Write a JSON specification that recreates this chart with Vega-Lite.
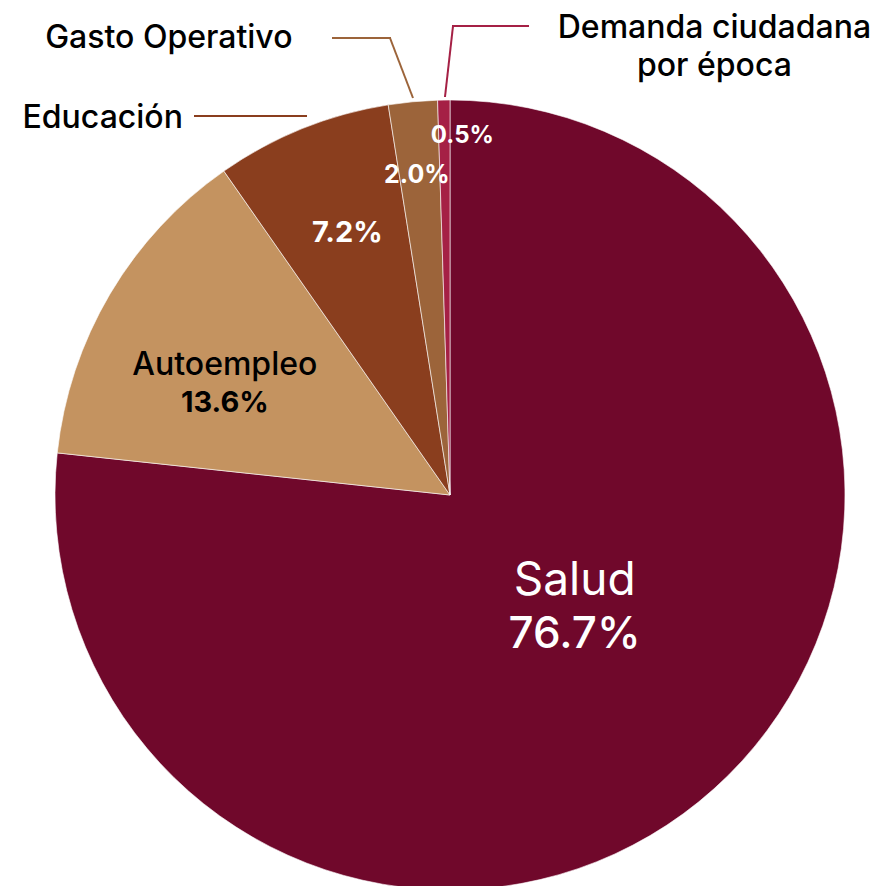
{
  "$schema": "https://vega.github.io/schema/vega-lite/v6.json",
  "width": 884,
  "height": 772,
  "autosize": "none",
  "padding": {"left": 8, "top": 109, "right": 0, "bottom": 5},
  "background": "#ffffff",
  "config": {"view": {"stroke": null}, "text": {"font": "Inter"}},
  "data": {"values": [
    {"cat": "Salud", "value": 0.767},
    {"cat": "Autoempleo", "value": 0.136},
    {"cat": "Educación", "value": 0.072},
    {"cat": "Gasto Operativo", "value": 0.020},
    {"cat": "Demanda ciudadana por época", "value": 0.005}
  ]},
  "layer": [
    {
      "mark": {"type": "arc", "outerRadius": 395, "stroke": "#ffffff", "strokeWidth": 0.6},
      "encoding": {
        "theta": {"field": "value", "type": "quantitative", "stack": true},
        "order": {"field": "value", "type": "quantitative", "sort": "descending"},
        "color": {"field": "cat", "type": "nominal", "legend": null,
          "scale": {"domain": ["Salud", "Autoempleo", "Educación", "Gasto Operativo", "Demanda ciudadana por época"],
                    "range": ["#70082B", "#C49360", "#8A3E1E", "#9C643A", "#A52045"]}}
      }
    },
    {
      "mark": {"type": "text", "radius": 170, "dx": 11, "dy": -26, "fontSize": 46, "fontWeight": 400, "fill": "#ffffff", "align": "center", "baseline": "alphabetic"},
      "encoding": {
        "theta": {"field": "value", "type": "quantitative", "stack": true},
        "order": {"field": "value", "type": "quantitative", "sort": "descending"},
        "text": {"condition": {"test": "datum.cat === 'Salud'", "field": "cat", "type": "nominal"}, "value": ""}
      }
    },
    {
      "mark": {"type": "text", "radius": 170, "dx": 11, "dy": 27, "fontSize": 44, "fontWeight": 500, "fill": "#ffffff", "align": "center", "baseline": "alphabetic"},
      "encoding": {
        "theta": {"field": "value", "type": "quantitative", "stack": true},
        "order": {"field": "value", "type": "quantitative", "sort": "descending"},
        "text": {"condition": {"test": "datum.cat === 'Salud'", "field": "value", "type": "quantitative", "format": ".1%"}, "value": ""}
      }
    },
    {
      "mark": {"type": "text", "radius": 250, "dx": -10, "dy": 7, "fontSize": 32, "fontWeight": 500, "fill": "#000000", "align": "center", "baseline": "alphabetic"},
      "encoding": {
        "theta": {"field": "value", "type": "quantitative", "stack": true},
        "order": {"field": "value", "type": "quantitative", "sort": "descending"},
        "text": {"condition": {"test": "datum.cat === 'Autoempleo'", "field": "cat", "type": "nominal"}, "value": ""}
      }
    },
    {
      "mark": {"type": "text", "radius": 250, "dx": -10, "dy": 44, "fontSize": 29, "fontWeight": 700, "fill": "#000000", "align": "center", "baseline": "alphabetic"},
      "encoding": {
        "theta": {"field": "value", "type": "quantitative", "stack": true},
        "order": {"field": "value", "type": "quantitative", "sort": "descending"},
        "text": {"condition": {"test": "datum.cat === 'Autoempleo'", "field": "value", "type": "quantitative", "format": ".1%"}, "value": ""}
      }
    },
    {
      "mark": {"type": "text", "radius": 280, "dx": 2, "dy": 7, "fontSize": 29, "fontWeight": 700, "fill": "#ffffff", "align": "center", "baseline": "alphabetic"},
      "encoding": {
        "theta": {"field": "value", "type": "quantitative", "stack": true},
        "order": {"field": "value", "type": "quantitative", "sort": "descending"},
        "text": {"condition": {"test": "datum.cat === 'Educación'", "field": "value", "type": "quantitative", "format": ".1%"}, "value": ""}
      }
    },
    {
      "mark": {"type": "text", "radius": 320, "dx": -3, "dy": 7, "fontSize": 25, "fontWeight": 700, "fill": "#ffffff", "align": "center", "baseline": "alphabetic"},
      "encoding": {
        "theta": {"field": "value", "type": "quantitative", "stack": true},
        "order": {"field": "value", "type": "quantitative", "sort": "descending"},
        "text": {"condition": {"test": "datum.cat === 'Gasto Operativo'", "field": "value", "type": "quantitative", "format": ".1%"}, "value": ""}
      }
    },
    {
      "mark": {"type": "text", "radius": 360, "dx": 18, "dy": 8, "fontSize": 24, "fontWeight": 700, "fill": "#ffffff", "align": "center", "baseline": "alphabetic"},
      "encoding": {
        "theta": {"field": "value", "type": "quantitative", "stack": true},
        "order": {"field": "value", "type": "quantitative", "sort": "descending"},
        "text": {"condition": {"test": "datum.cat === 'Demanda ciudadana por época'", "field": "value", "type": "quantitative", "format": ".1%"}, "value": ""}
      }
    },
    {
      "mark": {"type": "text", "radius": 420, "dx": -110, "dy": 23, "fontSize": 32, "fontWeight": 500, "fill": "#000000", "align": "right", "baseline": "alphabetic"},
      "encoding": {
        "theta": {"field": "value", "type": "quantitative", "stack": true},
        "order": {"field": "value", "type": "quantitative", "sort": "descending"},
        "text": {"condition": {"test": "datum.cat === 'Educación'", "field": "cat", "type": "nominal"}, "value": ""}
      }
    },
    {
      "mark": {"type": "text", "radius": 420, "dx": -118, "dy": -29, "fontSize": 32, "fontWeight": 500, "fill": "#000000", "align": "right", "baseline": "alphabetic"},
      "encoding": {
        "theta": {"field": "value", "type": "quantitative", "stack": true},
        "order": {"field": "value", "type": "quantitative", "sort": "descending"},
        "text": {"condition": {"test": "datum.cat === 'Gasto Operativo'", "field": "cat", "type": "nominal"}, "value": ""}
      }
    },
    {
      "mark": {"type": "text", "radius": 420, "dx": 271, "dy": -37, "fontSize": 32, "fontWeight": 500, "fill": "#000000", "align": "center", "baseline": "alphabetic", "lineHeight": 38},
      "encoding": {
        "theta": {"field": "value", "type": "quantitative", "stack": true},
        "order": {"field": "value", "type": "quantitative", "sort": "descending"},
        "text": {"condition": {"test": "datum.cat === 'Demanda ciudadana por época'", "value": ["Demanda ciudadana", "por época"]}, "value": ""}
      }
    },
    {
      "data": {"values": [{}]},
      "mark": {"type": "rule", "stroke": "#8A3E1E", "strokeWidth": 2},
      "encoding": {
        "x": {"datum": -0.6481, "type": "quantitative", "axis": null, "scale": {"domain": [-1.118987, 1.118987], "nice": false, "zero": false}},
        "x2": {"datum": -0.3620},
        "y": {"datum": 0.9595, "type": "quantitative", "axis": null, "scale": {"domain": [-0.977215, 0.977215], "nice": false, "zero": false}},
        "y2": {"datum": 0.9595}
      }
    },
    {
      "data": {"values": [{}]},
      "mark": {"type": "rule", "stroke": "#9C643A", "strokeWidth": 2, "strokeCap": "square"},
      "encoding": {
        "x": {"datum": -0.2962, "type": "quantitative", "axis": null, "scale": {"domain": [-1.118987, 1.118987], "nice": false, "zero": false}},
        "x2": {"datum": -0.1519},
        "y": {"datum": 1.1570, "type": "quantitative", "axis": null, "scale": {"domain": [-0.977215, 0.977215], "nice": false, "zero": false}},
        "y2": {"datum": 1.1570}
      }
    },
    {
      "data": {"values": [{}]},
      "mark": {"type": "rule", "stroke": "#9C643A", "strokeWidth": 2},
      "encoding": {
        "x": {"datum": -0.1519, "type": "quantitative", "axis": null, "scale": {"domain": [-1.118987, 1.118987], "nice": false, "zero": false}},
        "x2": {"datum": -0.0937},
        "y": {"datum": 1.1570, "type": "quantitative", "axis": null, "scale": {"domain": [-0.977215, 0.977215], "nice": false, "zero": false}},
        "y2": {"datum": 1.0051}
      }
    },
    {
      "data": {"values": [{}]},
      "mark": {"type": "rule", "stroke": "#A52045", "strokeWidth": 2},
      "encoding": {
        "x": {"datum": -0.0127, "type": "quantitative", "axis": null, "scale": {"domain": [-1.118987, 1.118987], "nice": false, "zero": false}},
        "x2": {"datum": 0.0076},
        "y": {"datum": 1.0076, "type": "quantitative", "axis": null, "scale": {"domain": [-0.977215, 0.977215], "nice": false, "zero": false}},
        "y2": {"datum": 1.1873}
      }
    },
    {
      "data": {"values": [{}]},
      "mark": {"type": "rule", "stroke": "#A52045", "strokeWidth": 2, "strokeCap": "square"},
      "encoding": {
        "x": {"datum": 0.0076, "type": "quantitative", "axis": null, "scale": {"domain": [-1.118987, 1.118987], "nice": false, "zero": false}},
        "x2": {"datum": 0.1975},
        "y": {"datum": 1.1873, "type": "quantitative", "axis": null, "scale": {"domain": [-0.977215, 0.977215], "nice": false, "zero": false}},
        "y2": {"datum": 1.1873}
      }
    }
  ]
}
